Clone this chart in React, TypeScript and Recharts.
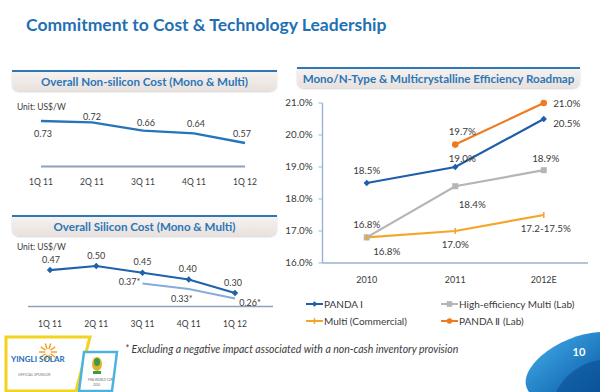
import React from 'react';
import { LineChart, Line, XAxis, YAxis, LabelList } from 'recharts';

const FONT = 'Lato, "Open Sans", sans-serif';

// ---------- data ----------
const quarters = ['1Q 11', '2Q 11', '3Q 11', '4Q 11', '1Q 12'];
const nonSiliconCost = [0.73, 0.72, 0.66, 0.64, 0.57];
const siliconCost = [0.47, 0.5, 0.45, 0.4, 0.3];
const siliconCostExProvision: (number | null)[] = [null, null, 0.37, 0.33, 0.26];

const years = ['2010', '2011', '2012E'];
const panda1 = [18.5, 19.0, 20.5];
const highEffMulti = [16.8, 18.4, 18.9];
const multiCommercial = [16.8, 17.0, 17.5];
const panda2: (number | null)[] = [null, 19.7, 21.0];
const multiCommercialText = ['16.8%', '17.0%', '17.2-17.5%'];
const efficiencyTicks = [16, 17, 18, 19, 20, 21];

const nonSiliconRows = quarters.map((q, i) => ({ q, v: nonSiliconCost[i] }));
const siliconRows = quarters.map((q, i) => ({ q, v: siliconCost[i], ex: siliconCostExProvision[i] }));
const effRows = years.map((y, i) => ({ y, p1: panda1[i], hem: highEffMulti[i], mc: multiCommercial[i], p2: panda2[i] }));

// ---------- styles ----------
const C_PANDA1 = '#1f5ea8';
const C_HEM = '#b5b5b5';
const C_MC = '#f4a62a';
const C_PANDA2 = '#ee7b22';
const AXIS = '#97b2d2';
const TXT = '#3a3a3a';

// label offsets (dx, dy) relative to each point
const nonSiliconLabelOffsets = [[2, 12], [0, -6], [3, -8], [2, -10], [-3, -10]];
const siliconLabelOffsets = [[1, -11], [0, -11], [0, -11], [-1, -11], [-2, -11]];
const siliconExLabelOffsets = [[0, 0], [0, 0], [-13, -2], [-7, 10], [15, 4]];
const p1Off = [[0, -13], [7, -9], [23, 4]];
const p2Off = [[0, 0], [7, -14], [23, 0]];
const hemOff = [[0, -13], [17, 18], [2, -12]];
const mcOff = [[20, 14], [0, 13], [2, 13]];

function makeLabel(offsets: number[][], fmt: (v: any, i: number) => string, fontSize = 9, fill = TXT) {
  return (props: any) => {
    const { x, y, value, index } = props;
    if (value == null || x == null || y == null || isNaN(y)) return null;
    const o = offsets[index] || [0, -10];
    return (
      <text x={x + o[0]} y={y + o[1]} textAnchor="middle" dominantBaseline="central" fontSize={fontSize} fill={fill} fontFamily={FONT}>
        {fmt(value, index)}
      </text>
    );
  };
}

type Shape = 'diamond' | 'square' | 'circle' | 'plus' | 'none';

function shapeEl(shape: Shape, cx: number, cy: number, color: string, s: number, key?: string) {
  if (shape === 'diamond') return <path key={key} d={`M${cx},${cy - s}L${cx + s},${cy}L${cx},${cy + s}L${cx - s},${cy}Z`} fill={color} />;
  if (shape === 'square') return <rect key={key} x={cx - s} y={cy - s} width={2 * s} height={2 * s} fill={color} />;
  if (shape === 'circle') return <circle key={key} cx={cx} cy={cy} r={s} fill={color} />;
  if (shape === 'plus') return <path key={key} d={`M${cx},${cy - s}L${cx},${cy + s}`} stroke={color} strokeWidth={1.6} />;
  return <g key={key} />;
}

function makeDot(shape: Shape, color: string, s: number) {
  return (props: any) => {
    const { cx, cy, index } = props;
    if (cx == null || cy == null || isNaN(cy)) return <g key={`n${index}`} />;
    return shapeEl(shape, cx, cy, color, s, `d${index}`);
  };
}

const legendItems: { name: string; color: string; shape: Shape }[] = [
  { name: 'PANDA Ⅰ', color: C_PANDA1, shape: 'diamond' },
  { name: 'High-efficiency Multi (Lab)', color: C_HEM, shape: 'square' },
  { name: 'Multi (Commercial)', color: C_MC, shape: 'plus' },
  { name: 'PANDA Ⅱ (Lab)', color: C_PANDA2, shape: 'circle' },
];

const Header = ({ left, top, width, height, text }: any) => (
  <div
    style={{
      position: 'absolute', left, top, width, height, boxSizing: 'border-box',
      borderTop: '2px solid #2f78b8', background: 'linear-gradient(#f6f2f0, #e8e1de)',
      borderRadius: '0 0 7px 7px', boxShadow: '0 1px 2px rgba(0,0,0,0.18)',
      display: 'flex', alignItems: 'center', justifyContent: 'center',
      fontFamily: FONT, fontWeight: 700, fontSize: 11.6, color: '#2b76b7', whiteSpace: 'nowrap',
    }}
  >
    {text}
  </div>
);

const abs = (left: number, top: number, extra: any = {}) => ({ position: 'absolute' as const, left, top, ...extra });

export default function App() {
  return (
    <div style={{ position: 'absolute', left: 0, top: 0, width: 600, height: 392, background: '#fff', overflow: 'hidden', fontFamily: FONT }}>
      {/* Title */}
      <div style={abs(26, 15, { fontSize: 17.5, fontWeight: 700, color: '#1f70b3', lineHeight: '20px', whiteSpace: 'nowrap' })}>
        Commitment to Cost &amp; Technology Leadership
      </div>

      {/* Panel 1 */}
      <Header left={12} top={70} width={265} height={21} text="Overall Non-silicon Cost (Mono & Multi)" />
      <div style={abs(17, 102, { fontSize: 8.5, color: TXT, lineHeight: '10px' })}>Unit: US$/W</div>
      <div style={abs(0, 95)}>
        <LineChart width={280} height={100} data={nonSiliconRows} margin={{ top: 16.4, right: 35, left: 41, bottom: 8.6 }}>
          <XAxis dataKey="q" height={20} axisLine={{ stroke: '#8ea2bc', strokeWidth: 2 }} tickLine={false} tickSize={0} tickMargin={13}
            tick={{ fontSize: 8.5, fill: TXT, fontFamily: FONT }} interval={0} />
          <YAxis hide domain={[0.4, 0.8]} />
          <Line dataKey="v" stroke="#2674ba" strokeWidth={2.4} dot={false} isAnimationActive={false}>
            <LabelList dataKey="v" content={makeLabel(nonSiliconLabelOffsets, (v) => v.toFixed(2))} />
          </Line>
        </LineChart>
      </div>

      {/* Panel 2 */}
      <Header left={12} top={215} width={265} height={21} text="Overall Silicon Cost (Mono & Multi)" />
      <div style={abs(17, 242, { fontSize: 8.5, color: TXT, lineHeight: '10px' })}>Unit: US$/W</div>
      <div style={abs(0, 240)}>
        <LineChart width={280} height={90} data={siliconRows} margin={{ top: 12.5, right: 7, left: 28, bottom: 3.5 }}>
          <XAxis dataKey="q" height={20} padding={{ left: 22, right: 38 }} axisLine={{ stroke: '#8ea2bc', strokeWidth: 1.6 }} tickLine={false}
            tickSize={0} tickMargin={14.5} tick={{ fontSize: 8.5, fill: TXT, fontFamily: FONT }} interval={0} />
          <YAxis hide domain={[0.2, 0.6]} />
          <Line dataKey="ex" stroke="#86acd9" strokeWidth={2} dot={false} isAnimationActive={false}>
            <LabelList dataKey="ex" content={makeLabel(siliconExLabelOffsets, (v) => v.toFixed(2) + '*')} />
          </Line>
          <Line dataKey="v" stroke="#1f62ab" strokeWidth={2.2} dot={makeDot('diamond', '#1f62ab', 3.2)} isAnimationActive={false}>
            <LabelList dataKey="v" content={makeLabel(siliconLabelOffsets, (v) => v.toFixed(2))} />
          </Line>
        </LineChart>
      </div>

      {/* Panel 3 */}
      <Header left={297} top={67} width={283} height={21} text="Mono/N-Type & Multicrystalline Efficiency Roadmap" />
      <div style={abs(285, 90)}>
        <LineChart width={315} height={205} data={effRows} margin={{ top: 13, right: 12, left: 0, bottom: 2 }}>
          <XAxis dataKey="y" height={30} padding={{ left: 44.25, right: 44.25 }} axisLine={{ stroke: AXIS, strokeWidth: 1.4 }} tickLine={false}
            tickSize={0} tickMargin={14} tick={{ fontSize: 9, fill: TXT, fontFamily: FONT }} interval={0} />
          <YAxis width={37.5} domain={[16, 21]} ticks={efficiencyTicks} interval={0} axisLine={{ stroke: AXIS, strokeWidth: 1.4 }}
            tickLine={{ stroke: AXIS }} tickSize={4} tickMargin={6} tickFormatter={(v: number) => v.toFixed(1) + '%'}
            tick={{ fontSize: 9.8, fill: TXT, fontFamily: FONT }} />
          <Line dataKey="hem" stroke={C_HEM} strokeWidth={2.2} dot={makeDot('square', C_HEM, 3)} isAnimationActive={false}>
            <LabelList dataKey="hem" content={makeLabel(hemOff, (v) => v.toFixed(1) + '%', 9.8)} />
          </Line>
          <Line dataKey="mc" stroke={C_MC} strokeWidth={2.2} dot={makeDot('plus', C_MC, 3)} isAnimationActive={false}>
            <LabelList dataKey="mc" content={makeLabel(mcOff, (_v, i) => multiCommercialText[i], 9.8)} />
          </Line>
          <Line dataKey="p1" stroke={C_PANDA1} strokeWidth={2.2} dot={makeDot('diamond', C_PANDA1, 3.2)} isAnimationActive={false}>
            <LabelList dataKey="p1" content={makeLabel(p1Off, (v) => v.toFixed(1) + '%', 9.8)} />
          </Line>
          <Line dataKey="p2" stroke={C_PANDA2} strokeWidth={2.2} dot={makeDot('circle', C_PANDA2, 3.3)} isAnimationActive={false}>
            <LabelList dataKey="p2" content={makeLabel(p2Off, (v) => v.toFixed(1) + '%', 9.8)} />
          </Line>
        </LineChart>
      </div>

      {/* Legend */}
      {legendItems.map((it, i) => {
        const col = i % 2;
        const row = Math.floor(i / 2);
        return (
          <div key={it.name} style={abs(col === 0 ? 306 : 441, (row === 0 ? 304 : 321) - 6, { display: 'flex', alignItems: 'center', height: 12, whiteSpace: 'nowrap' })}>
            <svg width={17} height={10}>
              <line x1={0} y1={5} x2={17} y2={5} stroke={it.color} strokeWidth={2} />
              {shapeEl(it.shape, 8.5, 5, it.color, 2.8)}
            </svg>
            <span style={{ fontSize: 10, color: TXT, marginLeft: 1 }}>{it.name}</span>
          </div>
        );
      })}

      {/* Footnote */}
      <div style={abs(125, 343, { fontSize: 10.5, fontStyle: 'italic', color: TXT, lineHeight: '12px', whiteSpace: 'nowrap' })}>
        * Excluding a negative impact associated with a non-cash inventory provision
      </div>

      {/* Logos & page decoration */}
      <svg width={600} height={392} style={abs(0, 0, { pointerEvents: 'none' })}>
        <defs>
          <linearGradient id="sw" x1="0" y1="0" x2="1" y2="1">
            <stop offset="0" stopColor="#45b3ef" />
            <stop offset="1" stopColor="#0b5aa5" />
          </linearGradient>
        </defs>
        <path d="M6,337 L90,337 L76,391 L6,391 Z" fill="#fff" stroke="#f3d31d" strokeWidth={3} />
        <path d="M84,352 L117,352 L112,391 L79,391 Z" fill="#fff" stroke="#4bb2e2" strokeWidth={2.5} />
        <g stroke="#f39a1e" strokeWidth={1.4}>
          {Array.from({ length: 10 }).map((_, k) => {
            const a = (k * Math.PI) / 5;
            return <line key={k} x1={48 + 3 * Math.cos(a)} y1={352 + 3 * Math.sin(a)} x2={48 + 9 * Math.cos(a)} y2={352 + 9 * Math.sin(a)} />;
          })}
        </g>
        <text x={11} y={362} fontSize={8} fontWeight={700} fill="#1d6db5" fontFamily={FONT}>YINGLI SOLAR</text>
        <text x={18} y={376} fontSize={3.5} fill="#777" fontFamily={FONT}>OFFICIAL SPONSOR</text>
        <ellipse cx={97} cy={364} rx={5} ry={7} fill="#e2b12a" />
        <ellipse cx={97} cy={362} rx={3} ry={4} fill="#3b9a45" />
        <rect x={93} y={371} width={8} height={3} fill="#3b9a45" />
        <text x={88} y={381} fontSize={3} fill="#666" fontFamily={FONT}>FIFA WORLD CUP</text>
        <text x={93} y={386} fontSize={3} fill="#666" fontFamily={FONT}>2014</text>
        <path d="M600,332 C580,333 557,342 541,356 C528,368 521,381 529,392 L600,392 Z" fill="url(#sw)" />
        <path d="M600,360 C585,362 566,372 556,392 L600,392 Z" fill="#0a4f95" opacity={0.6} />
        <text x={579} y={356} fontSize={11} fontWeight={700} fill="#fff" textAnchor="middle" fontFamily={FONT}>10</text>
      </svg>
    </div>
  );
}
